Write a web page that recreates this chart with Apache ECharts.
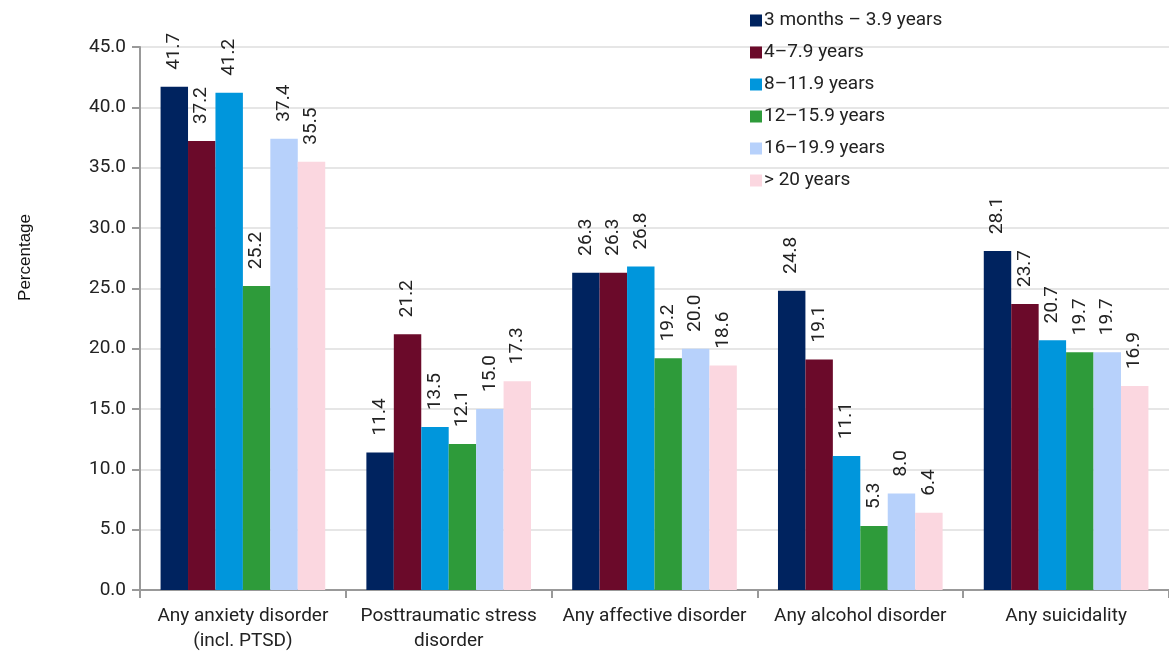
<!DOCTYPE html>
<html><head><meta charset="utf-8">
<script src="https://cdn.jsdelivr.net/npm/echarts@6/dist/echarts.min.js"></script>
<style>html,body{margin:0;padding:0;background:#fff}#c{width:1169px;height:654px}</style>
</head><body><div id="c"></div>
<script>
const categories = ['Any anxiety disorder\n(incl. PTSD)', 'Posttraumatic stress\ndisorder', 'Any affective disorder', 'Any alcohol disorder', 'Any suicidality'];
const seriesNames = ['3 months – 3.9 years', '4–7.9 years', '8–11.9 years', '12–15.9 years', '16–19.9 years', '> 20 years'];
const s1 = [41.7, 11.4, 26.3, 24.8, 28.1];
const s2 = [37.2, 21.2, 26.3, 19.1, 23.7];
const s3 = [41.2, 13.5, 26.8, 11.1, 20.7];
const s4 = [25.2, 12.1, 19.2, 5.3, 19.7];
const s5 = [37.4, 15.0, 20.0, 8.0, 19.7];
const s6 = [35.5, 17.3, 18.6, 6.4, 16.9];
const colors = ['#00235f', '#6b0a2a', '#0096dc', '#2e9b3a', '#b7d1fb', '#fbd7e0'];
const allData = [s1, s2, s3, s4, s5, s6];
const font = 'Roboto, "Liberation Sans", sans-serif';
const chart = echarts.init(document.getElementById('c'));
chart.setOption({
  animation: false,
  textStyle: {fontFamily: font},
  grid: {left: 140, right: -4, top: 47, bottom: 64},
  graphic: [{
    type: 'text', left: 17, top: 214, rotation: Math.PI / 2,
    style: {text: 'Percentage', font: '17px "Liberation Sans", Arial, sans-serif', fill: '#111'}
  }],
  legend: {
    orient: 'vertical', left: 745, top: 6, itemGap: 13, itemWidth: 12, itemHeight: 12,
    icon: 'rect', textStyle: {fontSize: 19, color: '#222', fontFamily: font, padding: [0,0,0,-3]},
    data: seriesNames
  },
  xAxis: {
    type: 'category', data: categories,
    axisLine: {lineStyle: {color: '#999', width: 2}},
    axisTick: {show: true, length: 8, lineStyle: {color: '#999', width: 2}},
    axisLabel: {fontSize: 19, color: '#222', lineHeight: 25, margin: 14, interval: 0}
  },
  yAxis: {
    type: 'value', min: 0, max: 45, interval: 5,
    axisLine: {show: true, lineStyle: {color: '#999', width: 2}},
    axisTick: {show: true, length: 8, lineStyle: {color: '#999', width: 2}},
    axisLabel: {fontSize: 19, color: '#222', margin: 14, formatter: v => v.toFixed(1)},
    splitLine: {lineStyle: {color: '#e6e6e6', width: 2}}
  },
  series: allData.map((d, i) => ({
    name: seriesNames[i], type: 'bar', data: d,
    barGap: '0%', barCategoryGap: '20%',
    itemStyle: {color: colors[i]},
    label: {show: true, position: 'top', rotate: 90, align: 'left', verticalAlign: 'middle', distance: 17,
      fontSize: 19, color: '#222', formatter: p => p.value.toFixed(1)}
  }))
});
</script></body></html>
